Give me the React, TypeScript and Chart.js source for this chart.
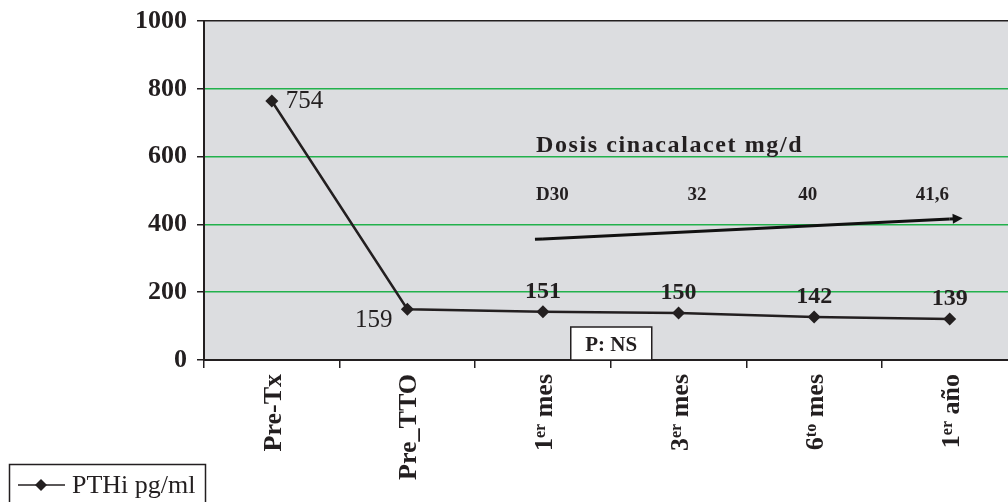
import { useEffect, useRef } from 'react';
import { Chart, registerables } from 'chart.js';

Chart.register(...registerables);

// ---- data ----
const categories = ['Pre-Tx', 'Pre_TTO', '1er mes', '3er mes', '6to mes', '1er año'];
const pthValues = [764, 150, 142, 139, 127, 121];
const pthLabels = ['754', '159', '151', '150', '142', '139'];
const doseArrow = [null, null, 357, null, null, 416];
const doseLabels = ['D30', '32', '40', '41,6'];
const doseTitle = 'Dosis cinacalacet mg/d';
const yTicks = [0, 200, 400, 600, 800, 1000];
const seriesName = 'PTHi pg/ml';
const pValueText = 'P: NS';

const INK = '#231f20';
const GREEN = '#22b14c';
const SERIF = '"Liberation Serif", "DejaVu Serif", serif';

const decor = {
  id: 'decor',
  beforeDraw(chart: any) {
    const { ctx, chartArea: a } = chart;
    ctx.save();
    ctx.fillStyle = '#dcdde0';
    ctx.fillRect(a.left, a.top, a.right - a.left, a.bottom - a.top);
    ctx.restore();
  },
  afterDraw(chart: any) {
    const { ctx, chartArea: a } = chart;
    const xs = chart.scales.x;
    const ys = chart.scales.y;
    ctx.save();
    ctx.fillStyle = INK;
    ctx.strokeStyle = INK;

    // x category labels (rotated, with superscripts)
    const main = 26;
    const sup = 16;
    categories.forEach((cat, i) => {
      const m = cat.match(/^(\d+)(er|to)(\s.*)$/);
      const segs = m
        ? [{ t: m[1], s: false }, { t: m[2], s: true }, { t: m[3], s: false }]
        : [{ t: cat, s: false }];
      const widths = segs.map((g) => {
        ctx.font = `bold ${g.s ? sup : main}px ${SERIF}`;
        return ctx.measureText(g.t).width;
      });
      const W = widths.reduce((p, c) => p + c, 0);
      ctx.save();
      ctx.translate(xs.getPixelForValue(i), a.bottom + 14);
      ctx.rotate(-Math.PI / 2);
      ctx.textAlign = 'left';
      ctx.textBaseline = 'alphabetic';
      let cx = -W;
      segs.forEach((g, k) => {
        ctx.font = `bold ${g.s ? sup : main}px ${SERIF}`;
        ctx.fillText(g.t, cx, g.s ? 9 - 7 : 9);
        cx += widths[k];
      });
      ctx.restore();
    });

    // value labels
    const meta = chart.getDatasetMeta(0);
    meta.data.forEach((p: any, i: number) => {
      if (i === 0) {
        ctx.font = `25px ${SERIF}`;
        ctx.textAlign = 'left';
        ctx.textBaseline = 'alphabetic';
        ctx.fillText(pthLabels[i], p.x + 14, p.y + 7);
      } else if (i === 1) {
        ctx.font = `25px ${SERIF}`;
        ctx.textAlign = 'right';
        ctx.textBaseline = 'alphabetic';
        ctx.fillText(pthLabels[i], p.x - 15, p.y + 18);
      } else {
        ctx.font = `bold 24px ${SERIF}`;
        ctx.textAlign = 'center';
        ctx.textBaseline = 'alphabetic';
        ctx.fillText(pthLabels[i], p.x, p.y - 14);
      }
    });

    // dose title and labels
    ctx.textAlign = 'left';
    ctx.textBaseline = 'alphabetic';
    ctx.font = `bold 24px ${SERIF}`;
    (ctx as any).letterSpacing = '1.6px';
    ctx.fillText(doseTitle, xs.getPixelForValue(2) - 7, ys.getPixelForValue(613));
    (ctx as any).letterSpacing = '0px';
    ctx.font = `bold 19px ${SERIF}`;
    const doseDx = [-7, 9, -16, -34];
    doseLabels.forEach((d, k) => {
      ctx.fillText(d, xs.getPixelForValue(2 + k) + doseDx[k], ys.getPixelForValue(472));
    });

    // arrow extensions and head
    const am = chart.getDatasetMeta(1).data.filter((p: any) => !p.skip && p.y != null && !isNaN(p.y));
    if (am.length >= 2) {
      const p0 = am[0];
      const p1 = am[am.length - 1];
      const dx = p1.x - p0.x;
      const dy = p1.y - p0.y;
      const L = Math.hypot(dx, dy);
      const ux = dx / L;
      const uy = dy / L;
      const sx = p0.x - ux * 8;
      const sy = p0.y - uy * 8;
      const ex = p1.x + ux * 13;
      const ey = p1.y + uy * 13;
      ctx.lineWidth = 3;
      ctx.strokeStyle = '#111';
      ctx.beginPath();
      ctx.moveTo(sx, sy);
      ctx.lineTo(p0.x, p0.y);
      ctx.moveTo(p1.x, p1.y);
      ctx.lineTo(ex - ux * 6, ey - uy * 6);
      ctx.stroke();
      ctx.fillStyle = '#111';
      ctx.beginPath();
      ctx.moveTo(ex, ey);
      ctx.lineTo(ex - ux * 10 - uy * 5, ey - uy * 10 + ux * 5);
      ctx.lineTo(ex - ux * 10 + uy * 5, ey - uy * 10 - ux * 5);
      ctx.closePath();
      ctx.fill();
    }

    // P: NS box
    const bx = (xs.getPixelForValue(2) + xs.getPixelForValue(3)) / 2 - 40;
    const bw = 81;
    const bh = 33;
    ctx.fillStyle = '#ffffff';
    ctx.fillRect(bx, a.bottom - bh, bw, bh);
    ctx.lineWidth = 1.5;
    ctx.strokeStyle = INK;
    ctx.strokeRect(bx, a.bottom - bh, bw, bh);
    ctx.fillStyle = INK;
    ctx.font = `bold 21px ${SERIF}`;
    ctx.textAlign = 'center';
    ctx.textBaseline = 'alphabetic';
    ctx.fillText(pValueText, bx + bw / 2, a.bottom - 9);

    // legend
    ctx.lineWidth = 1.5;
    ctx.strokeStyle = INK;
    ctx.strokeRect(9.5, 464.5, 196, 60);
    ctx.beginPath();
    ctx.moveTo(18, 485);
    ctx.lineTo(65, 485);
    ctx.stroke();
    ctx.fillStyle = INK;
    ctx.beginPath();
    ctx.moveTo(41, 479);
    ctx.lineTo(47, 485);
    ctx.lineTo(41, 491);
    ctx.lineTo(35, 485);
    ctx.closePath();
    ctx.fill();
    ctx.font = `26px ${SERIF}`;
    ctx.textAlign = 'left';
    ctx.textBaseline = 'alphabetic';
    ctx.fillText(chart.data.datasets[0].label, 72, 493);

    ctx.restore();
  },
};

export default function App() {
  const ref = useRef<HTMLCanvasElement | null>(null);

  useEffect(() => {
    if (!ref.current) return;
    const yMin = yTicks[0];
    const yMax = yTicks[yTicks.length - 1];
    const chart = new Chart(ref.current, {
      type: 'line',
      data: {
        labels: categories,
        datasets: [
          {
            label: seriesName,
            data: pthValues,
            borderColor: INK,
            borderWidth: 2.5,
            backgroundColor: INK,
            pointStyle: 'rectRot',
            pointRadius: 6.5,
            pointBorderWidth: 0,
            pointBackgroundColor: INK,
            tension: 0,
          },
          {
            label: 'dose',
            data: doseArrow as any,
            borderColor: '#111',
            borderWidth: 3,
            pointRadius: 0,
            spanGaps: true,
            tension: 0,
          },
        ],
      },
      options: {
        responsive: false,
        animation: false,
        layout: { padding: { top: 21, left: 0, right: 0, bottom: 0 } },
        plugins: { legend: { display: false }, tooltip: { enabled: false } },
        scales: {
          x: {
            offset: true,
            grid: {
              display: true,
              drawOnChartArea: false,
              drawTicks: true,
              tickLength: 8,
              color: INK,
              lineWidth: 1.5,
              offset: true,
            },
            border: { display: true, color: INK, width: 2 },
            ticks: { display: false },
            afterFit(s: any) {
              s.height = 142;
              s.paddingLeft = 0;
              s.paddingRight = 0;
            },
          },
          y: {
            min: yMin,
            max: yMax,
            ticks: {
              stepSize: yTicks[1] - yTicks[0],
              font: { size: 26, weight: 'bold', family: SERIF },
              color: INK,
              padding: 10,
              callback: (v: any) => String(v),
            },
            grid: {
              color: (c: any) => (c.tick && (c.tick.value === yMin || c.tick.value === yMax) ? INK : GREEN),
              lineWidth: 1.5,
              tickColor: INK,
              tickLength: 7,
            },
            border: { display: true, color: INK, width: 2 },
            afterFit(s: any) {
              s.width = 204;
              s.paddingTop = 0;
              s.paddingBottom = 0;
            },
          },
        },
      },
      plugins: [decor],
    });
    return () => chart.destroy();
  }, []);

  return (
    <div
      style={{
        position: 'fixed',
        left: 0,
        top: 0,
        width: 1008,
        height: 502,
        overflow: 'hidden',
        background: '#ffffff',
      }}
    >
      <canvas ref={ref} width={1024} height={502} style={{ width: 1024, height: 502, display: 'block' }} />
    </div>
  );
}
